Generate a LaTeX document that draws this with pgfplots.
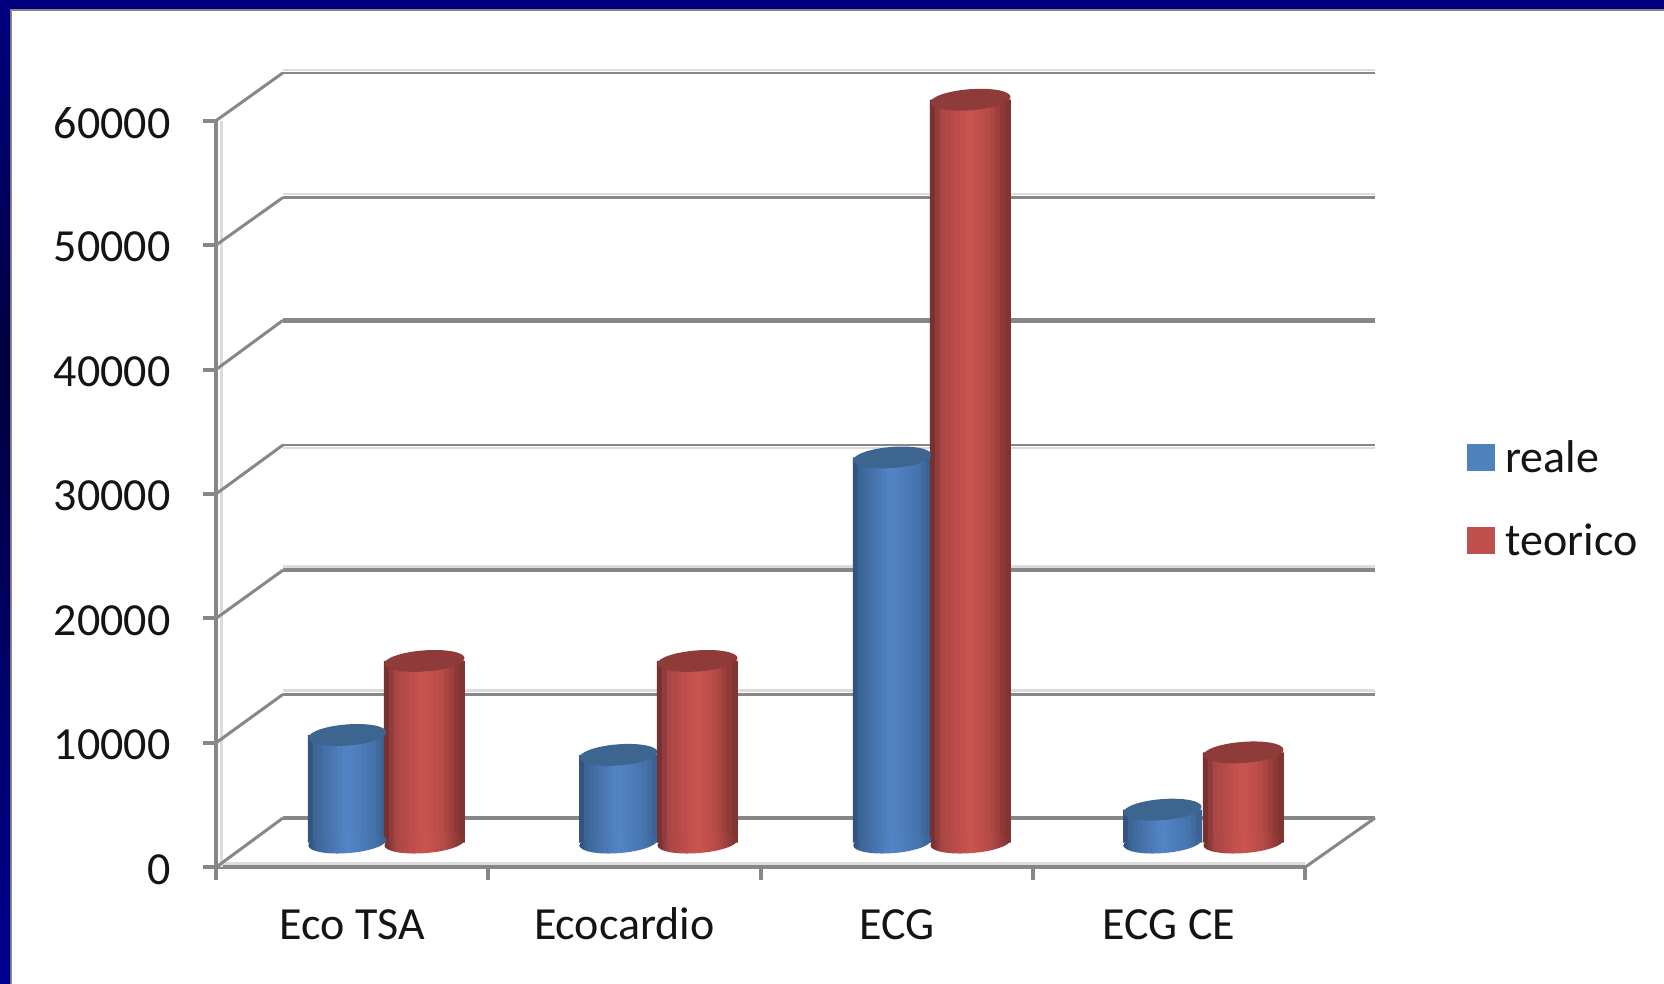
\documentclass[border=0pt]{standalone}
\usepackage{pgfplots}
\pgfplotsset{compat=1.18}
\usepackage{pgfplotstable}
\usepackage{fontspec}
\setmainfont{Carlito}

\definecolor{navy}{HTML}{000080}
\definecolor{navydark}{HTML}{000040}
\definecolor{navylow}{HTML}{000090}
\definecolor{wallgray}{HTML}{878787}
\definecolor{wallhalo}{HTML}{DCDCDC}
\definecolor{serieblue}{HTML}{4F81BD}
\definecolor{seriered}{HTML}{C0504D}
\definecolor{capblue}{HTML}{3C658F}
\definecolor{capred}{HTML}{8E3B39}
\definecolor{labelink}{HTML}{141414}

% Round shading of the cylinder bases: 25bp--75bp spans one base's width
\pgfdeclarehorizontalshading{bluebody}{100bp}{
  rgb(0bp)=(0.173,0.302,0.459);
  rgb(25bp)=(0.173,0.302,0.459);
  rgb(30bp)=(0.239,0.400,0.600);
  rgb(50bp)=(0.325,0.522,0.780);
  rgb(67bp)=(0.271,0.451,0.671);
  rgb(75bp)=(0.220,0.369,0.561);
  rgb(100bp)=(0.220,0.369,0.561)}
\pgfdeclarehorizontalshading{redbody}{100bp}{
  rgb(0bp)=(0.412,0.169,0.169);
  rgb(25bp)=(0.412,0.169,0.169);
  rgb(32bp)=(0.659,0.271,0.271);
  rgb(50bp)=(0.800,0.329,0.310);
  rgb(62bp)=(0.710,0.290,0.278);
  rgb(71bp)=(0.549,0.220,0.212);
  rgb(75bp)=(0.471,0.200,0.188);
  rgb(100bp)=(0.471,0.200,0.188)}

% Elliptical caps and bases of the cylinders, slightly tilted
\pgfdeclareplotmark{topblue}{%
  \pgfsetfillcolor{capblue}%
  \pgfpathellipse{\pgfpointorigin}{\pgfqpoint{39pt}{3pt}}{\pgfqpoint{-0.8pt}{10.5pt}}%
  \pgfusepathqfill}
\pgfdeclareplotmark{topred}{%
  \pgfsetfillcolor{capred}%
  \pgfpathellipse{\pgfpointorigin}{\pgfqpoint{40pt}{3pt}}{\pgfqpoint{-0.8pt}{10.5pt}}%
  \pgfusepathqfill}
\pgfdeclareplotmark{baseblue}{%
  \pgfpathellipse{\pgfpointorigin}{\pgfqpoint{39pt}{3pt}}{\pgfqpoint{-0.8pt}{10.5pt}}%
  \pgfshadepath{bluebody}{0}\pgfusepath{discard}}
\pgfdeclareplotmark{basered}{%
  \pgfpathellipse{\pgfpointorigin}{\pgfqpoint{40pt}{3pt}}{\pgfqpoint{-0.8pt}{10.5pt}}%
  \pgfshadepath{redbody}{0}\pgfusepath{discard}}

% xr, xt: bar centres in category units; zero: base of each cylinder
\pgfplotstableread{
xr       xt      reale  teorico zero
-0.1360  0.1465  8650   14600   0
 0.8572  1.1465  7050   14600   0
 1.8600  2.1465  30950  59700   0
 2.8500  3.1465  2650   7250    0
}\examdata

% One level of the back wall: slanted floor edge, line, soft edge beside it
\newcommand{\wall}[4]{%
  \addplot[wallhalo, line width=2.5pt, forget plot] coordinates {(0.2461,#4)(4.257,#4)};
  \addplot[wallgray, line width=3pt, forget plot] coordinates {(0,#1)(0.2461,#2)};
  \addplot[wallgray, line width=#3, forget plot] coordinates {(0.2461,#2)(4.257,#2)};
}

% A vertical band of every cylinder of one series, with its place across the
% cylinder and its colour; the bands side by side give the round look
\newcommand{\blueband}[4]{%
  \addplot[ybar, bar shift=#1pt, bar width=5.9pt, draw=none,
    fill={rgb,255:red,#2;green,#3;blue,#4}, forget plot]
    table[x=xr, y=reale] {\examdata};
}
\newcommand{\redband}[4]{%
  \addplot[ybar, bar shift=#1pt, bar width=6pt, draw=none,
    fill={rgb,255:red,#2;green,#3;blue,#4}, forget plot]
    table[x=xt, y=teorico] {\examdata};
}

\newcommand{\chartfont}{\fontsize{46}{52}\selectfont}

\begin{document}
\begin{tikzpicture}[x=1pt,y=1pt]
  \path[use as bounding box] (0,0) rectangle (1664,984);
  \fill[white] (0,0) rectangle (1664,984);
  % Slide frame
  \fill[wallgray] (0,973) rectangle (1664,984);
  \fill[wallgray] (0,0) rectangle (12,984);
  \fill[navy] (0,975) rectangle (1664,984);
  \shade[top color=navy, bottom color=navydark] (0,614) rectangle (10,984);
  \shade[top color=navydark, bottom color=navylow] (0,0) rectangle (10,614);

  % Walls, floor and both axes
  \begin{axis}[
    at={(216pt,116.7pt)}, anchor=south west,
    scale only axis, width=1089pt, height=746.6pt,
    xmin=0, xmax=4, ymin=0, ymax=60000, clip=false,
    axis x line*=bottom, axis y line*=left,
    axis line style={wallgray, line width=4pt, -},
    xtick={0,1,2,3,4},
    x tick label as interval,
    xticklabels={Eco TSA,Ecocardio,ECG,ECG CE},
    ytick={0,10000,...,60000},
    scaled y ticks=false,
    tick align=outside, major tick length=13pt,
    tick style={wallgray, line width=4pt},
    tick label style={font=\chartfont, labelink},
    yticklabel style={xshift=-29pt, yshift=-2pt},
    xticklabel style={yshift=-24pt, text height=32pt, text depth=0pt},
    /pgf/number format/1000 sep={},
    /pgf/number format/assume math mode=true,
  ]
    \addplot[wallhalo, line width=3pt, forget plot] coordinates {(0.02,0)(0.02,60000)};
    \addplot[wallhalo, line width=3pt, forget plot] coordinates {(0.02,300)(4,300)};
    \wall{60000}{63850}{2.5pt}{64090}
    \wall{50000}{53830}{3.5pt}{54120}
    \wall{40000}{43962}{4.5pt}{43962}
    \wall{30000}{33940}{2.5pt}{33700}
    \wall{20000}{23880}{3.5pt}{24170}
    \wall{10000}{13900}{3.5pt}{14190}
    \wall{0}{3962}{4pt}{3962}
    \addplot[wallgray, line width=3pt, forget plot] coordinates {(4,0)(4.257,3962)};
  \end{axis}

  % Cylinders, standing halfway between the front edge and the back wall
  \begin{axis}[
    at={(248pt,141.4pt)}, anchor=south west,
    scale only axis, width=1092pt, height=746.6pt,
    xmin=-0.5, xmax=3.5, ymin=0, ymax=60000, clip=false,
    hide axis,
    legend style={
      at={(axis description cs:1.1163,0.5410)}, anchor=north west,
      draw=none, fill=none, inner sep=0pt, outer sep=0pt,
      font=\chartfont, text=labelink, row sep=46pt,
      cells={anchor=west},
      /tikz/every odd column/.append style={column sep=9pt},
    },
    legend cell align=left,
  ]
    \addlegendimage{legend image code/.code={\fill[serieblue] (0pt,-13pt) rectangle (27pt,13pt);}}
    \addlegendentry{reale}
    \addlegendimage{legend image code/.code={\fill[seriered] (0pt,-13pt) rectangle (27pt,13pt);}}
    \addlegendentry{teorico}

    % Series "reale"
    \addplot[only marks, mark=baseblue, forget plot] table[x=xr, y=zero] {\examdata};
    \blueband{-36.56}{49}{85}{128}
    \blueband{-31.69}{60}{100}{151}
    \blueband{-26.81}{64}{106}{159}
    \blueband{-21.94}{68}{111}{167}
    \blueband{-17.06}{71}{116}{174}
    \blueband{-12.19}{74}{121}{181}
    \blueband{-7.31}{78}{126}{188}
    \blueband{-2.44}{81}{131}{195}
    \blueband{2.44}{82}{131}{196}
    \blueband{7.31}{79}{128}{191}
    \blueband{12.19}{77}{125}{186}
    \blueband{17.06}{74}{121}{181}
    \blueband{21.94}{71}{118}{176}
    \blueband{26.81}{69}{115}{171}
    \blueband{31.69}{64}{106}{160}
    \blueband{36.56}{58}{98}{148}
    \addplot[only marks, mark=topblue, forget plot] table[x=xr, y=reale] {\examdata};

    % Series "teorico"
    \addplot[only marks, mark=basered, forget plot] table[x=xt, y=zero] {\examdata};
    \redband{-37.5}{119}{49}{49}
    \redband{-32.5}{147}{60}{60}
    \redband{-27.5}{170}{70}{69}
    \redband{-22.5}{176}{72}{71}
    \redband{-17.5}{182}{75}{73}
    \redband{-12.5}{188}{78}{75}
    \redband{-7.5}{195}{80}{76}
    \redband{-2.5}{201}{83}{78}
    \redband{2.5}{201}{83}{78}
    \redband{7.5}{195}{80}{76}
    \redband{12.5}{189}{78}{74}
    \redband{17.5}{183}{75}{72}
    \redband{22.5}{172}{70}{67}
    \redband{27.5}{157}{64}{61}
    \redband{32.5}{143}{57}{55}
    \redband{37.5}{128}{53}{50}
    \addplot[only marks, mark=topred, forget plot] table[x=xt, y=teorico] {\examdata};
  \end{axis}
\end{tikzpicture}
\end{document}
